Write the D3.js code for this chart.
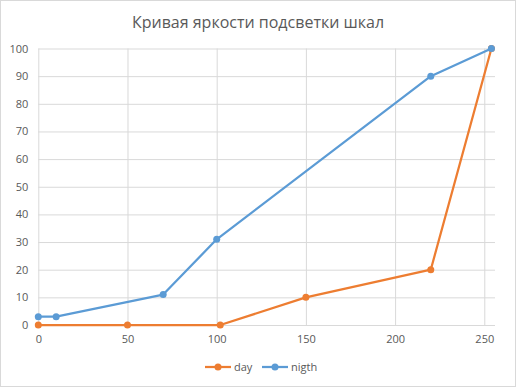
<!DOCTYPE html>
<html>
<head>
<meta charset="utf-8">
<script src="https://cdnjs.cloudflare.com/ajax/libs/d3/7.8.5/d3.min.js"></script>
<style>
  body { margin: 0; background: #fff; }
  text { font-family: "Open Sans", "Noto Sans", sans-serif; fill: #595959; }
</style>
</head>
<body>
<div id="chart"></div>
<script>
const title = 'Кривая яркости подсветки шкал';
const dayX = [0, 50, 102, 150, 220, 254];
const dayY = [0, 0, 0, 10, 20, 100];
const nightX = [0, 10, 70, 100, 220, 254];
const nightY = [3, 3, 11, 31, 90, 100];
const xTicks = [0, 50, 100, 150, 200, 250];
const yTicks = [0, 10, 20, 30, 40, 50, 60, 70, 80, 90, 100];
const seriesNames = ['day', 'nigth'];
const colors = ['#ED7D31', '#5B9BD5'];

const width = 516, height = 387;
const margin = { top: 48.5, right: 21, bottom: 62, left: 38.3 };

const svg = d3.select('#chart')
    .append('svg')
    .attr('width', width)
    .attr('height', height);

// chart border
svg.append('rect')
    .attr('x', 0.5).attr('y', 0.5)
    .attr('width', width - 1).attr('height', height - 1)
    .attr('fill', '#fff')
    .attr('stroke', '#d9d9d9');

const x = d3.scaleLinear()
    .domain([0, 256])
    .range([margin.left, width - margin.right]);

const y = d3.scaleLinear()
    .domain([0, 100])
    .range([height - margin.bottom, margin.top]);

// gridlines
svg.append('g')
    .attr('transform', `translate(0,${y(0)})`)
    .call(d3.axisBottom(x).tickValues(xTicks).tickSize(-(y(0) - y(100))).tickFormat(''))
    .call(g => g.select('.domain').remove())
    .call(g => g.selectAll('line').attr('stroke', '#d9d9d9'));

svg.append('g')
    .attr('transform', `translate(${x(0)},0)`)
    .call(d3.axisLeft(y).tickValues(yTicks).tickSize(-(x(256) - x(0))).tickFormat(''))
    .call(g => g.select('.domain').remove())
    .call(g => g.selectAll('line').attr('stroke', '#d9d9d9'));

// tick labels
svg.append('g')
    .attr('transform', `translate(0,${y(0)})`)
    .call(d3.axisBottom(x).tickValues(xTicks).tickSize(0).tickPadding(10))
    .call(g => g.select('.domain').remove())
    .selectAll('text')
    .style('font-size', '11px');

svg.append('g')
    .attr('transform', `translate(${x(0)},0)`)
    .call(d3.axisLeft(y).tickValues(yTicks).tickSize(0).tickPadding(10))
    .call(g => g.select('.domain').remove())
    .selectAll('text')
    .style('font-size', '11px');

const series = [
    { name: seriesNames[0], pts: dayX.map((v, i) => [v, dayY[i]]), color: colors[0] },
    { name: seriesNames[1], pts: nightX.map((v, i) => [v, nightY[i]]), color: colors[1] }
];

const line = d3.line()
    .x(d => x(d[0]))
    .y(d => y(d[1]));

series.forEach(s => {
    svg.append('path')
        .datum(s.pts)
        .attr('d', line)
        .attr('fill', 'none')
        .attr('stroke', s.color)
        .attr('stroke-width', 2.25)
        .attr('stroke-linejoin', 'round');
    svg.selectAll(null)
        .data(s.pts)
        .enter()
        .append('circle')
        .attr('cx', d => x(d[0]))
        .attr('cy', d => y(d[1]))
        .attr('r', 3.5)
        .attr('fill', s.color);
});

// title
svg.append('text')
    .attr('x', width / 2)
    .attr('y', 28)
    .attr('text-anchor', 'middle')
    .style('font-size', '16px')
    .text(title);

// legend
const legend = svg.append('g')
    .attr('transform', `translate(205,367)`);

series.forEach((s, i) => {
    const g = legend.append('g').attr('transform', `translate(${i * 57},0)`);
    g.append('line')
        .attr('x1', 0).attr('x2', 26)
        .attr('stroke', s.color)
        .attr('stroke-width', 2.25);
    g.append('circle')
        .attr('cx', 13).attr('r', 3.5)
        .attr('fill', s.color);
    g.append('text')
        .attr('x', 29)
        .attr('dy', '0.35em')
        .style('font-size', '11px')
        .text(s.name);
});
</script>
</body>
</html>
